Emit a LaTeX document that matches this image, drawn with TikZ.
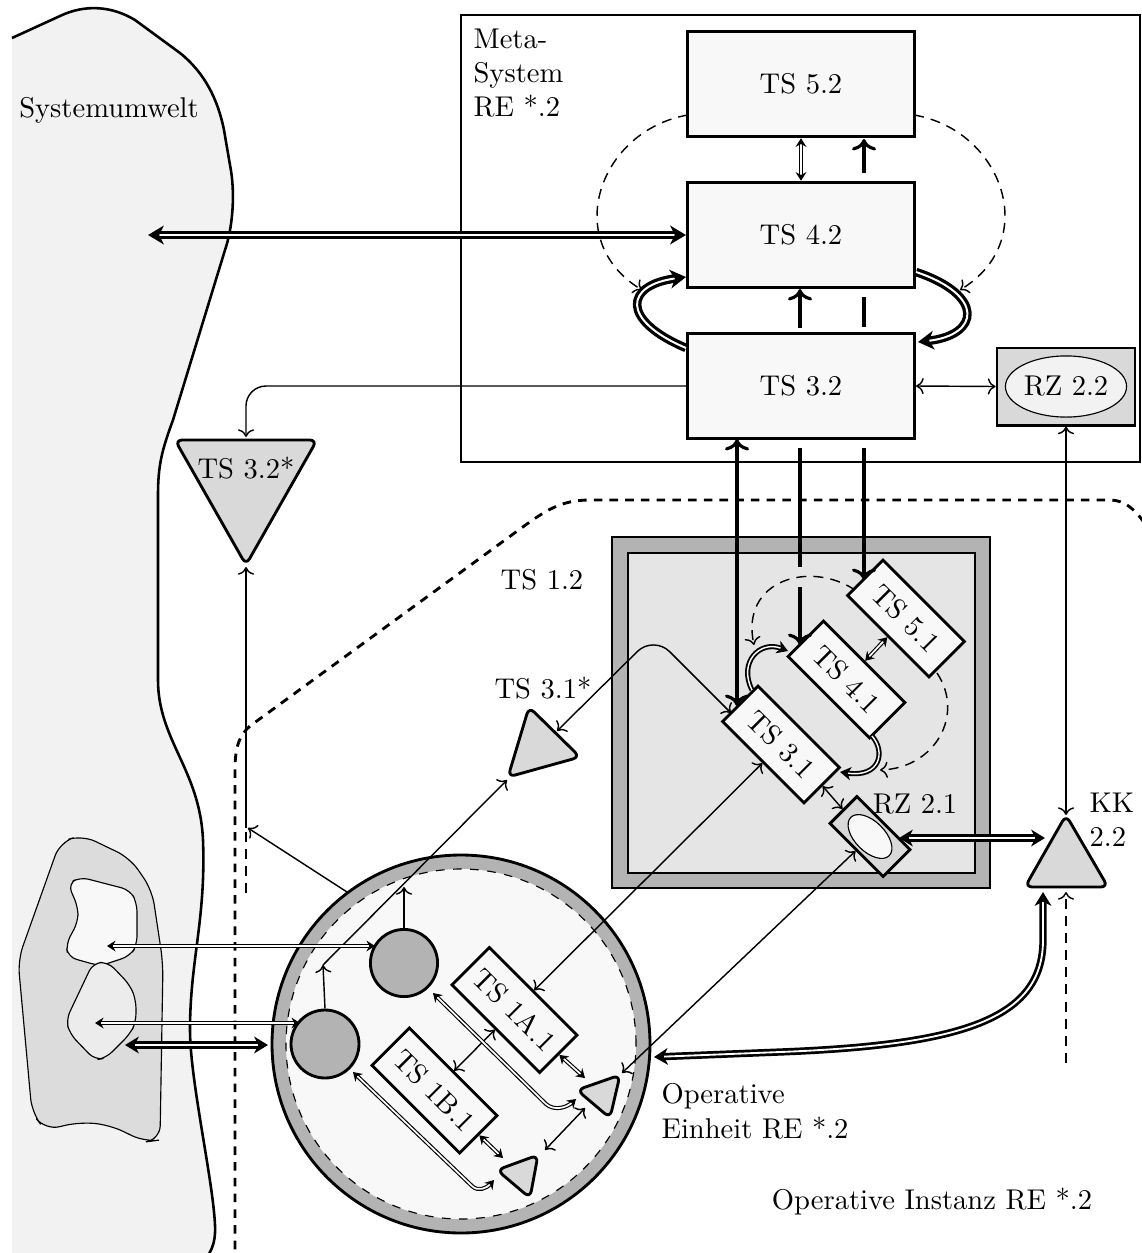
\documentclass[tikz,border=0pt]{standalone}
\usetikzlibrary{arrows.meta,shapes.geometric,calc}
\definecolor{envfill}{HTML}{F2F2F2}
\definecolor{boxfill}{HTML}{F8F8F8}
\definecolor{ringgray}{HTML}{B3B3B3}
\definecolor{midgray}{HTML}{D9D9D9}
\definecolor{innergray}{HTML}{E5E5E5}
\definecolor{islandgray}{HTML}{DCDCDC}
\definecolor{islandlight}{HTML}{ECECEC}
\tikzset{
  htip/.tip={Stealth[length=5.5pt,width=6.5pt,inset=1.6pt]},
  ttip/.tip={Stealth[length=4.8pt,width=5.8pt,inset=1.4pt]},
  mtip/.tip={Stealth[length=3.8pt,width=4.6pt,inset=1.1pt]},
  stip/.tip={Stealth[length=3pt,width=3.8pt,inset=1pt]},
  tsbox/.style={draw, line width=1pt, fill=boxfill, inner sep=0pt},
  bigbox/.style={tsbox, minimum width=79.5pt, minimum height=37pt},
  rotbox/.style={tsbox, rotate=-45, minimum width=40.25pt, minimum height=17.5pt},
  rotboxwide/.style={tsbox, rotate=-45, minimum width=43.4pt, minimum height=18.5pt},
  conn/.style={line width=0.5pt},
  connthick/.style={line width=1.1pt},
  dashthin/.style={line width=0.5pt, dash pattern=on 3.5pt off 2.5pt},
  dlthin/.style={double, line width=0.4pt, double distance=0.6pt},
  dlmid/.style={double, line width=0.65pt, double distance=0.5pt},
  dlthick/.style={double, line width=0.95pt, double distance=0.65pt},
  dlheavy/.style={double, line width=1.15pt, double distance=0.7pt},
  tri/.style={draw, line width=1pt, fill=midgray, rounded corners=2.5pt, line join=round},
}
\newcommand\roundtri[3]{\draw[tri] ($(#1)!0.5!(#2)$) -- (#2) -- (#3) -- (#1) -- cycle;}
\begin{document}
\begin{tikzpicture}[x=0.35pt,y=-0.35pt,>=To]
\useasboundingbox (0,0) rectangle (1142,1253);
\fill[white] (0,0) rectangle (1142,1253);
% Systemumwelt
\fill[envfill] (12,38) -- (60,16) .. controls (85,4) and (112,6) .. (135,20) -- (180,53) .. controls (205,73) and (218,100) .. (224,130) -- (230,165) .. controls (236,195) and (232,230) .. (225,250) -- (173,420) .. controls (162,450) and (158,465) .. (158,495) -- (158,680) .. controls (158,740) and (200,770) .. (203,840) .. controls (206,920) and (190,960) .. (190,1030) .. controls (190,1080) and (213,1180) .. (215,1225) .. controls (216,1245) and (210,1255) .. (200,1265) -- (12,1265) -- cycle;
\draw[line width=0.9pt] (12,38) -- (60,16) .. controls (85,4) and (112,6) .. (135,20) -- (180,53) .. controls (205,73) and (218,100) .. (224,130) -- (230,165) .. controls (236,195) and (232,230) .. (225,250) -- (173,420) .. controls (162,450) and (158,465) .. (158,495) -- (158,680) .. controls (158,740) and (200,770) .. (203,840) .. controls (206,920) and (190,960) .. (190,1030) .. controls (190,1080) and (213,1180) .. (215,1225) .. controls (216,1245) and (210,1255) .. (200,1265);
\node (envlabel) at (109,110) {Systemumwelt};
% islands
\draw[fill=islandgray, line width=0.4pt, rounded corners=5pt] (18,960) -- (60,842) -- (82,835) -- (130,858) -- (152,890) -- (163,963) -- (160,1140) -- (145,1142) -- (110,1125) -- (80,1122) -- (45,1130) -- (32,1113) -- cycle;
\draw[fill=boxfill, line width=0.4pt, rounded corners=3pt] (68,884) -- (80,877) -- (130,890) -- (137,903) -- (137,945) -- (130,956) -- (100,966) -- (68,957) -- (66,944) -- (78,922) -- (78,907) -- cycle;
\draw[fill=islandlight, line width=0.4pt, rounded corners=3pt] (93,963) -- (108,962) -- (130,985) -- (136,1000) -- (136,1022) -- (130,1034) -- (106,1058) -- (95,1060) -- (70,1034) -- (66,1020) -- cycle;
% Operative Instanz boundary
\draw[line width=1pt, dash pattern=on 3pt off 2.5pt] (235,1265) -- (235,770) .. controls (235,745) and (240,735) .. (250,726) -- (520,529) .. controls (545,511) and (560,500) .. (590,500) -- (1110,500) .. controls (1125,500) and (1136,510) .. (1148,528);
% Meta-System box
\draw[line width=0.8pt] (461,15) rectangle (1140,462);
\node[anchor=north west, align=left, inner sep=0pt] (metalabel) at (473,28) {Meta-\\System\\RE *.2};
\node[bigbox] (ts52) at (801,84) {TS 5.2};
\node[bigbox] (ts42) at (801,235) {TS 4.2};
\node[bigbox] (ts32) at (801,386) {TS 3.2};
\node[draw, line width=1pt, fill=midgray, minimum width=48.3pt, minimum height=27pt] (rz22box) at (1066,386.5) {};
\node[draw, ellipse, fill=envfill, line width=0.4pt, minimum width=42.4pt, minimum height=21.4pt, inner sep=0pt] (rz22) at (1066,386.5) {RZ 2.2};
% TS 1.2 box
\node[draw, line width=1pt, fill=ringgray, minimum width=132.3pt, minimum height=122.85pt] (ts12) at (801,712.5) {};
\draw[fill=innergray, line width=0.5pt] (628,553) rectangle (975,873);
\node (ts12label) at (542,580) {TS 1.2};
\node[rotbox] (ts51) at (906,618.5) {TS 5.1};
\node[rotbox] (ts41) at (846.5,679.5) {TS 4.1};
\node[rotbox] (ts31) at (781,744.5) {TS 3.1};
\node[draw, line width=1pt, fill=midgray, rotate=-45, minimum width=26.25pt, minimum height=13.3pt] (rz21box) at (870,836.5) {};
\node[draw, ellipse, rotate=-45, fill=boxfill, line width=0.4pt, minimum width=19pt, minimum height=10.5pt, inner sep=0pt] (rz21) at (870,836.5) {};
\node (rz21label) at (915,804) {RZ 2.1};
% KK 2.2
\coordinate (kka) at (1066,815); \coordinate (kkb) at (1108,887); \coordinate (kkc) at (1025,887);
\roundtri{kka}{kkb}{kkc}
\node[anchor=west, align=left, inner sep=0pt] (kklabel) at (1089,820) {KK\\2.2};
% TS 3.2*
\coordinate (tsa) at (175,440); \coordinate (tsb) at (317,440); \coordinate (tsc) at (246,565);
\roundtri{tsa}{tsb}{tsc}
\node (ts32slabel) at (246,468) {TS 3.2*};
% TS 3.1*
\coordinate (tra) at (529,707); \coordinate (trb) at (580,757); \coordinate (trc) at (508,777);
\roundtri{tra}{trb}{trc}
\node (ts31slabel) at (543,688) {TS 3.1*};
% Operative Einheit circle
\node[circle, draw, line width=1pt, fill=ringgray, minimum size=132.3pt, inner sep=0pt] (oe) at (461,1044) {};
\node[circle, draw, dashed, line width=0.4pt, fill=boxfill, minimum size=122.5pt, inner sep=0pt] (oeinner) at (461,1044) {};
\node[circle, draw, line width=1pt, fill=ringgray, minimum size=23.5pt, inner sep=0pt] (c1) at (404,963) {};
\node[circle, draw, line width=1pt, fill=ringgray, minimum size=23.8pt, inner sep=0pt] (c2) at (325,1044) {};
\node[rotboxwide] (ts1a) at (514.5,1010) {TS 1A.1};
\node[rotboxwide] (ts1b) at (434.5,1090.5) {TS 1B.1};
\coordinate (ua) at (577,1090); \coordinate (ub) at (620,1075); \coordinate (uc) at (610,1118);
\roundtri{ua}{ub}{uc}
\coordinate (la) at (497,1170); \coordinate (lb) at (538,1155); \coordinate (lc) at (530,1198);
\roundtri{la}{lb}{lc}
\node[anchor=north west, align=left, inner sep=0pt] (oelabel) at (661,1083) {Operative\\Einheit RE *.2};
\node (oilabel) at (932,1202) {Operative Instanz RE *.2};
% ---------- connectors: meta system
\draw[dlheavy, htip-htip] (148,235) -- (ts42.west);
\draw[dlthin, stip-stip] (ts52.south) -- (ts42.north);
\draw[dashthin, ->] (688,115) .. controls (600,130) and (560,240) .. (642,290);
\draw[dashthin, ->] (914,115) .. controls (1002,130) and (1042,240) .. (960,290);
\draw[dlheavy, -htip] (686,348) .. controls (620,320) and (625,285) .. (686,277);
\draw[dlheavy, -htip] (916,272) .. controls (985,295) and (980,335) .. (918,342);
\draw[connthick, ->] (864,173) -- (864,139);
\draw[connthick] (864,297) -- (864,327);
\draw[connthick, ->] (800,328) -- (800,289);
\draw[conn, <->] (ts32.east) -- (rz22box.west);
\draw[conn, <->] (rz22box.south) -- (kka);
\draw[conn, ->, rounded corners=7pt] (ts32.west) -| (246,437);
% meta to TS 1.2
\draw[connthick, <->] (737,439) -- (737,706);
\draw[connthick] (800,448) -- (800,567);
\draw[connthick, ->] (800,587) -- (800,645);
\draw[connthick, ->] (864,448) -- (864,580);
% inside TS 1.2
\draw[dlthin, stip-stip] (ts41.north) -- (ts51.south);
\draw[dlmid, -mtip] (752,690) .. controls (738,662) and (760,640) .. (788,651);
\draw[dlmid, -mtip] (872,736) .. controls (886,752) and (880,778) .. (840,772);
\draw[dashthin, ->] (855,590) .. controls (810,560) and (740,580) .. (754,645);
\draw[dashthin, ->] (937,673) .. controls (965,715) and (935,768) .. (880,770);
\draw[conn, <->] (ts31.east) -- (rz21box.west);
\draw[conn, <->, rounded corners=8pt] (557,731) -- (653.5,635.5) -- (731,713);
\draw[conn, <->] (ts31.south) -- (ts1a.north);
\draw[conn, <->] (rz21box.south) -- (622,1073);
\draw[dlthick, ttip-ttip] (899,838) -- (1045,838);
% circle to KK
\draw[dlthick, ttip-ttip] (654,1057) -- (780,1052) .. controls (960,1045) and (1043,1020) .. (1043,940) -- (1043,892);
\draw[dashthin, ->] (1066,1063) -- (1066,892);
% circle upward connections
\draw[conn, ->] (c1.north) -- (404,887);
\draw[conn, ->] (c2.north) -- (323,965);
\draw[conn, ->] (323,965) -- (507,780);
\draw[conn, ->] (347,892) -- (248,828);
\draw[conn, ->] (246,828) -- (246,567);
\draw[dashthin] (246,832) -- (246,897);
% island arrows
\draw[dlthin, stip-stip] (107,946) -- (375,946);
\draw[dlthin, stip-stip] (95,1023) -- (300,1023);
\draw[dlthick, ttip-ttip] (125,1045) -- (268,1045);
% inside circle
\draw[conn, <->] (ts1a.south) -- (ts1b.north);
\draw[dlthin, stip-stip] (ts1a.east) -- (585,1078);
\draw[dlthin, stip-stip] (ts1b.east) -- (503,1158);
\draw[conn, <->] (585,1108) -- (545,1150);
\draw[dlthin, stip-stip] (433,993) -- (546,1104) .. controls (554,1111) and (566,1108) .. (576,1099);
\draw[dlthin, stip-stip] (353,1072) -- (472,1186) .. controls (478,1192) and (487,1188) .. (494,1180);
\end{tikzpicture}
\end{document}
